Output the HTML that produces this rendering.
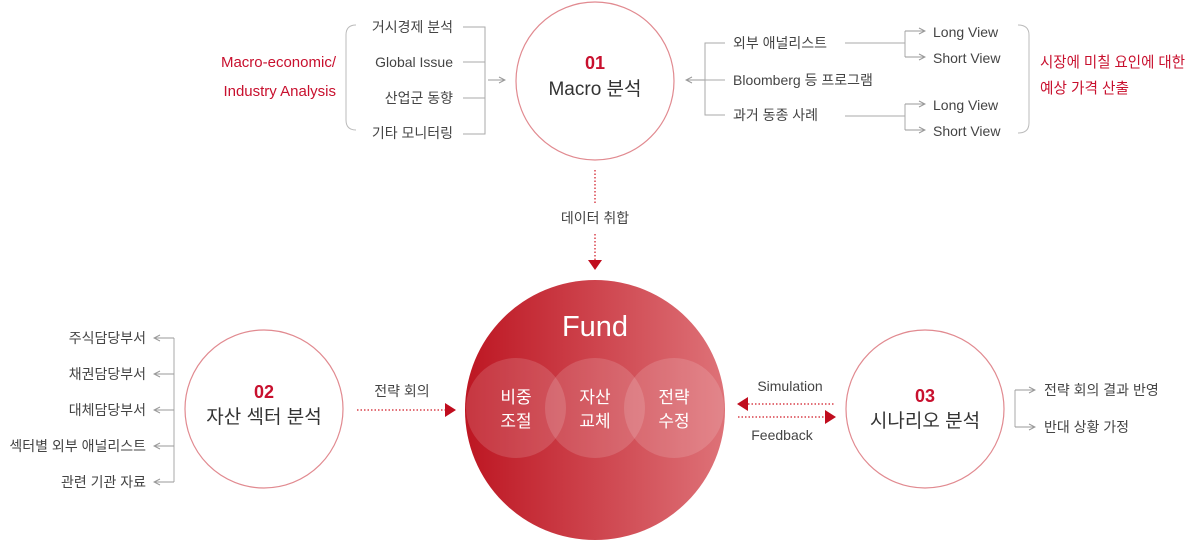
<!DOCTYPE html>
<html><head><meta charset="utf-8"><style>
html,body{margin:0;padding:0;background:#fff;}
svg{display:block;}
text{font-family:"Liberation Sans","Noto Sans CJK KR",sans-serif;}
.g{fill:#444;font-size:14px;}
.r{fill:#c8102e;font-size:15px;}
.w{fill:#fff;}
</style></head><body>
<svg width="1188" height="540" viewBox="0 0 1188 540" xmlns="http://www.w3.org/2000/svg">
<defs>
<linearGradient id="fg" x1="0" x2="1" y1="0" y2="0">
<stop offset="0" stop-color="#bd1622"/><stop offset="1" stop-color="#de7278"/>
</linearGradient>
<marker id="ga" markerWidth="8" markerHeight="8" refX="7" refY="4" orient="auto" markerUnits="userSpaceOnUse">
<path d="M1,1 L7,4 L1,7" fill="none" stroke="#999" stroke-width="1"/></marker>
</defs>

<circle cx="595" cy="81" r="79" fill="#fff" stroke="#e18a90" stroke-width="1.2"/>
<text x="595" y="69" text-anchor="middle" fill="#c8102e" font-size="18" font-weight="bold">01</text>
<text x="595" y="95" text-anchor="middle" fill="#333" font-size="19">Macro 분석</text>

<text class="r" x="336" y="67" text-anchor="end">Macro-economic/</text>
<text class="r" x="336" y="96" text-anchor="end">Industry Analysis</text>
<path d="M356,25 Q346,25 346,35 L346,120 Q346,130 356,130" fill="none" stroke="#bbb"/>
<text class="g" x="453" y="32" text-anchor="end">거시경제 분석</text>
<text class="g" x="453" y="67" text-anchor="end">Global Issue</text>
<text class="g" x="453" y="103" text-anchor="end">산업군 동향</text>
<text class="g" x="453" y="138" text-anchor="end">기타 모니터링</text>
<path d="M463,27 H485 V134 H463 M463,62 H485 M463,98 H485" fill="none" stroke="#aaa"/>
<line x1="488" y1="80" x2="505" y2="80" stroke="#999" marker-end="url(#ga)"/>

<line x1="705" y1="80" x2="686" y2="80" stroke="#999" marker-end="url(#ga)"/>
<path d="M725,43 H705 V115 H725 M705,80 H725" fill="none" stroke="#aaa"/>
<text class="g" x="733" y="48">외부 애널리스트</text>
<text class="g" x="733" y="85">Bloomberg 등 프로그램</text>
<text class="g" x="733" y="120">과거 동종 사례</text>
<path d="M845,43 H905 M905,31 V57 M845,116 H905 M905,104 V130" fill="none" stroke="#aaa"/>
<line x1="905" y1="31" x2="925" y2="31" stroke="#999" marker-end="url(#ga)"/>
<line x1="905" y1="57" x2="925" y2="57" stroke="#999" marker-end="url(#ga)"/>
<line x1="905" y1="104" x2="925" y2="104" stroke="#999" marker-end="url(#ga)"/>
<line x1="905" y1="130" x2="925" y2="130" stroke="#999" marker-end="url(#ga)"/>
<text class="g" x="933" y="37" font-size="15">Long View</text>
<text class="g" x="933" y="63" font-size="15">Short View</text>
<text class="g" x="933" y="110" font-size="15">Long View</text>
<text class="g" x="933" y="136" font-size="15">Short View</text>
<path d="M1018,25 Q1029,25 1029,35 L1029,123 Q1029,133 1018,133" fill="none" stroke="#bbb"/>
<text class="r" x="1040" y="67" textLength="145" lengthAdjust="spacingAndGlyphs">시장에 미칠 요인에 대한</text>
<text class="r" x="1040" y="93" textLength="89" lengthAdjust="spacingAndGlyphs">예상 가격 산출</text>

<line x1="595" y1="170" x2="595" y2="204" stroke="#d9414b" stroke-width="1.5" stroke-dasharray="1.5,2"/>
<line x1="595" y1="234" x2="595" y2="260" stroke="#d9414b" stroke-width="1.5" stroke-dasharray="1.5,2"/>
<text class="g" x="595" y="223" text-anchor="middle">데이터 취합</text>
<path d="M588,260 H602 L595,270 Z" fill="#c00d1e"/>

<circle cx="595" cy="410" r="130" fill="url(#fg)"/>
<circle cx="516" cy="408" r="50" fill="#fff" fill-opacity="0.14"/>
<circle cx="595" cy="408" r="50" fill="#fff" fill-opacity="0.14"/>
<circle cx="674" cy="408" r="50" fill="#fff" fill-opacity="0.14"/>
<text class="w" x="595" y="336" text-anchor="middle" font-size="29">Fund</text>
<text class="w" x="516" y="403" text-anchor="middle" font-size="17">비중</text>
<text class="w" x="516" y="427" text-anchor="middle" font-size="17">조절</text>
<text class="w" x="595" y="403" text-anchor="middle" font-size="17">자산</text>
<text class="w" x="595" y="427" text-anchor="middle" font-size="17">교체</text>
<text class="w" x="674" y="403" text-anchor="middle" font-size="17">전략</text>
<text class="w" x="674" y="427" text-anchor="middle" font-size="17">수정</text>

<circle cx="264" cy="409" r="79" fill="#fff" stroke="#e18a90" stroke-width="1.2"/>
<text x="264" y="398" text-anchor="middle" fill="#c8102e" font-size="18" font-weight="bold">02</text>
<text x="264" y="423" text-anchor="middle" fill="#333" font-size="19">자산 섹터 분석</text>
<text class="g" x="146" y="343" text-anchor="end">주식담당부서</text>
<text class="g" x="146" y="379" text-anchor="end">채권담당부서</text>
<text class="g" x="146" y="415" text-anchor="end">대체담당부서</text>
<text class="g" x="146" y="451" text-anchor="end">섹터별 외부 애널리스트</text>
<text class="g" x="146" y="487" text-anchor="end">관련 기관 자료</text>
<line x1="174" y1="338" x2="174" y2="482" stroke="#aaa"/>
<line x1="174" y1="338" x2="154" y2="338" stroke="#999" marker-end="url(#ga)"/>
<line x1="174" y1="374" x2="154" y2="374" stroke="#999" marker-end="url(#ga)"/>
<line x1="174" y1="410" x2="154" y2="410" stroke="#999" marker-end="url(#ga)"/>
<line x1="174" y1="446" x2="154" y2="446" stroke="#999" marker-end="url(#ga)"/>
<line x1="174" y1="482" x2="154" y2="482" stroke="#999" marker-end="url(#ga)"/>
<text class="g" x="402" y="396" text-anchor="middle">전략 회의</text>
<line x1="357" y1="410" x2="445" y2="410" stroke="#d9414b" stroke-width="1.5" stroke-dasharray="1.5,2"/>
<path d="M445,403 L456,410 L445,417 Z" fill="#c00d1e"/>

<circle cx="925" cy="409" r="79" fill="#fff" stroke="#e18a90" stroke-width="1.2"/>
<text x="925" y="402" text-anchor="middle" fill="#c8102e" font-size="18" font-weight="bold">03</text>
<text x="925" y="427" text-anchor="middle" fill="#333" font-size="19">시나리오 분석</text>
<text class="g" x="790" y="391" text-anchor="middle">Simulation</text>
<text class="g" x="782" y="440" text-anchor="middle">Feedback</text>
<path d="M748,397 L737,404 L748,411 Z" fill="#c00d1e"/>
<line x1="748" y1="404" x2="835" y2="404" stroke="#d9414b" stroke-width="1.5" stroke-dasharray="1.5,2"/>
<line x1="738" y1="417" x2="825" y2="417" stroke="#d9414b" stroke-width="1.5" stroke-dasharray="1.5,2"/>
<path d="M825,410 L836,417 L825,424 Z" fill="#c00d1e"/>
<line x1="1015" y1="390" x2="1015" y2="427" stroke="#aaa"/>
<line x1="1015" y1="390" x2="1035" y2="390" stroke="#999" marker-end="url(#ga)"/>
<line x1="1015" y1="427" x2="1035" y2="427" stroke="#999" marker-end="url(#ga)"/>
<text class="g" x="1044" y="395">전략 회의 결과 반영</text>
<text class="g" x="1044" y="432">반대 상황 가정</text>
</svg>
</body></html>
